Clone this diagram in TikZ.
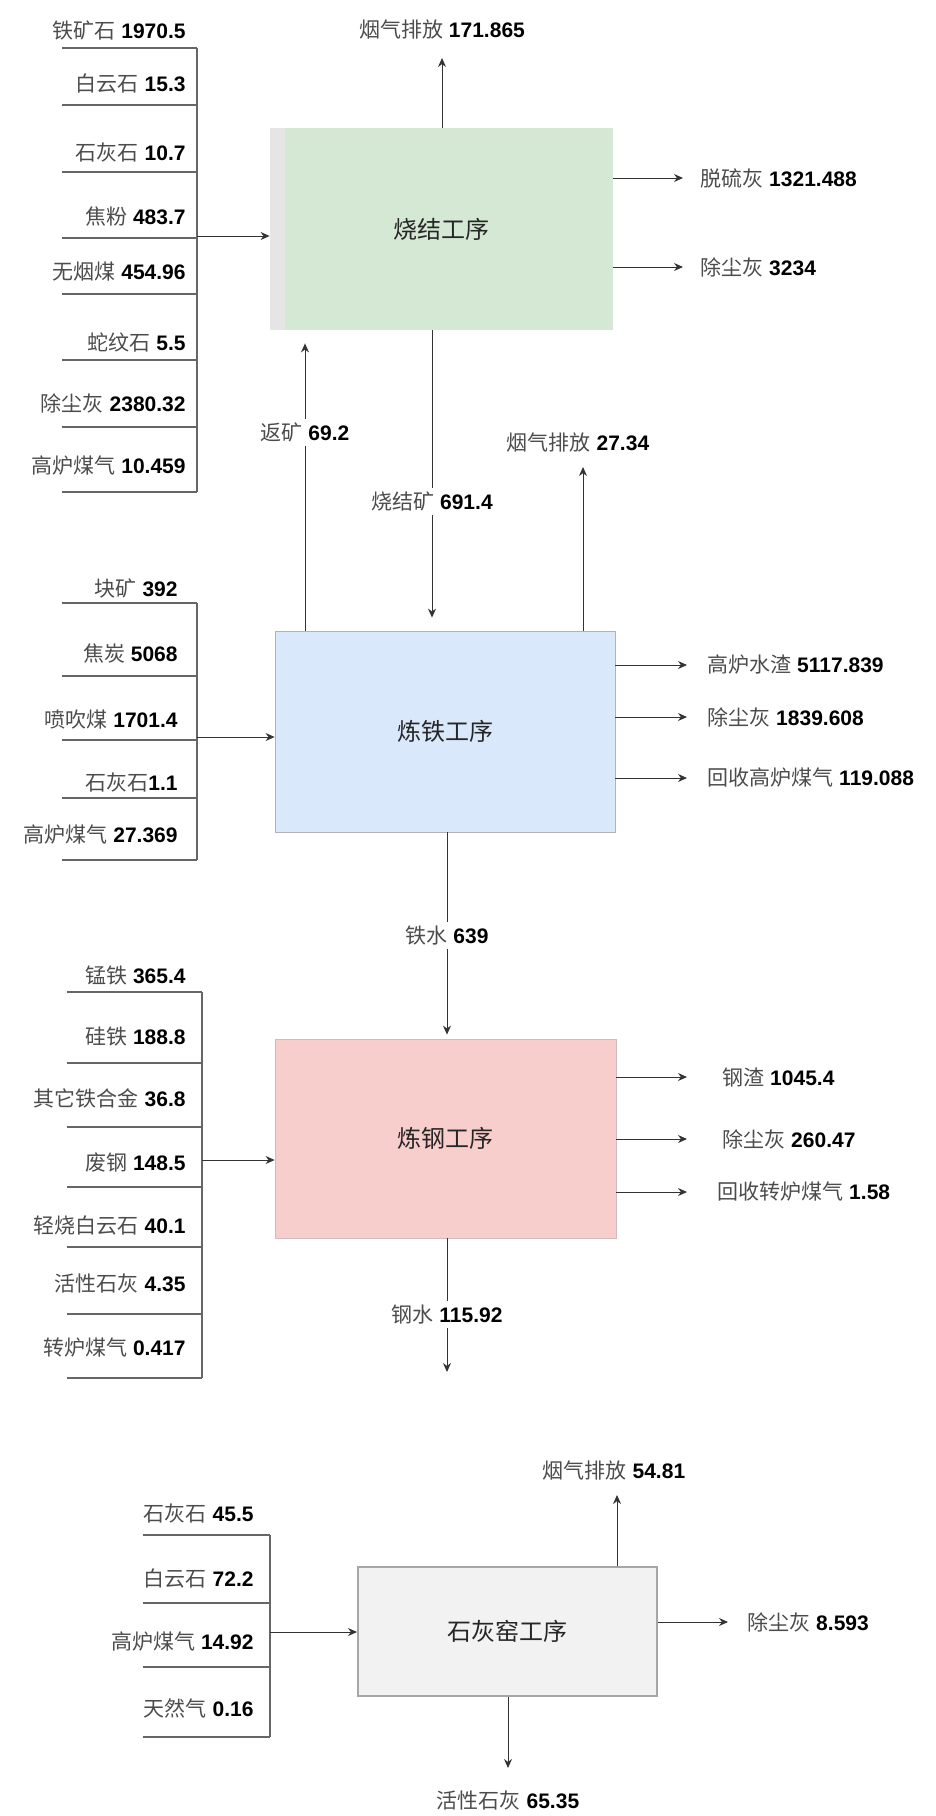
\documentclass[tikz,border=0pt]{standalone}
\usepackage{fontspec}
\setmainfont{Liberation Sans}
\newfontfamily\cjk{Noto Sans CJK SC}
\usepackage{xcolor}
\usepackage{tikz}
\usetikzlibrary{arrows.meta}
\usetikzlibrary{positioning}

\definecolor{sinterfill}{HTML}{D5E8D4}
\definecolor{ironfill}{HTML}{DAE8FC}
\definecolor{steelfill}{HTML}{F8CECC}
\definecolor{limefill}{HTML}{F2F2F2}

\newcommand{\amt}[2]{{\color{black!70}\cjk #1} \textbf{#2}}

\begin{document}
\begin{tikzpicture}[
  x=0.5pt, y=-0.5pt,
  every node/.style={font=\fontsize{10.5}{12}\selectfont, inner sep=1pt},
  proc/.style={font=\fontsize{12}{14}\selectfont\cjk, text=black!85},
  flow/.style={draw=black!80, line width=0.5pt, -{Stealth[length=4.5pt,width=4pt]}},
  rule/.style={draw=black!60, line width=0.7pt},
  onlbl/.style={fill=white, inner sep=2pt}
]
\useasboundingbox (0,0) rectangle (936,1816);

% process boxes
\node[proc, fill=sinterfill, minimum width=171.5pt, minimum height=101pt,
  path picture={\fill[black!10] (path picture bounding box.north west)
    rectangle ([xshift=7.5pt]path picture bounding box.south west);}]
  (sinter) at (441.5,229) {烧结工序};
\node[proc, fill=ironfill, draw=black!30, minimum width=170pt, minimum height=100.5pt]
  (iron) at (445,731.5) {炼铁工序};
\node[proc, fill=steelfill, draw=steelfill!70!black!60, minimum width=170.5pt, minimum height=99.5pt]
  (steel) at (445.5,1138.5) {炼钢工序};
\node[proc, fill=limefill, draw=black!35, line width=1pt, minimum width=149.5pt, minimum height=64.5pt]
  (lime) at (507.5,1631.5) {石灰窑工序};

% inputs of sinter
\foreach \t/\ty/\ly in {{\amt{铁矿石}{1970.5}}/30/48, {\amt{白云石}{15.3}}/84/105,
  {\amt{石灰石}{10.7}}/152/172, {\amt{焦粉}{483.7}}/216/238,
  {\amt{无烟煤}{454.96}}/272/294, {\amt{蛇纹石}{5.5}}/342/360,
  {\amt{除尘灰}{2380.32}}/403/427, {\amt{高炉煤气}{10.459}}/466/492}{
  \node[anchor=east] (sa\ly) at (188,\ty) {\t};
  \draw[rule] (62,\ly) -- (197,\ly);
}
\draw[rule] (197,48) -- (197,492);
\coordinate (sin) at (197,236);
\draw[flow] (sin) -- (sin -| sinter.west);

% inputs of iron
\foreach \t/\ty/\ly in {{\amt{块矿}{392}}/588/603, {\amt{焦炭}{5068}}/653/676,
  {\amt{喷吹煤}{1701.4}}/720/740, {{\color{black!70}\cjk 石灰石}\textbf{1.1}}/782/798,
  {\amt{高炉煤气}{27.369}}/835/860}{
  \node[anchor=east] (ia\ly) at (180,\ty) {\t};
  \draw[rule] (62,\ly) -- (197,\ly);
}
\draw[rule] (197,603) -- (197,860);
\coordinate (iin) at (197,737);
\draw[flow] (iin) -- (iin -| iron.west);

% inputs of steel
\foreach \t/\ty/\ly in {{\amt{锰铁}{365.4}}/975/992, {\amt{硅铁}{188.8}}/1037/1063,
  {\amt{其它铁合金}{36.8}}/1098/1127, {\amt{废钢}{148.5}}/1163/1187,
  {\amt{轻烧白云石}{40.1}}/1225/1247, {\amt{活性石灰}{4.35}}/1283/1314,
  {\amt{转炉煤气}{0.417}}/1348/1378}{
  \node[anchor=east] (ta\ly) at (188,\ty) {\t};
  \draw[rule] (67,\ly) -- (202,\ly);
}
\draw[rule] (202,992) -- (202,1378);
\coordinate (tin) at (202,1160);
\draw[flow] (tin) -- (tin -| steel.west);

% inputs of lime kiln
\foreach \t/\ty/\ly in {{\amt{石灰石}{45.5}}/1513/1535, {\amt{白云石}{72.2}}/1578/1603,
  {\amt{高炉煤气}{14.92}}/1642/1667, {\amt{天然气}{0.16}}/1708/1737}{
  \node[anchor=east] (la\ly) at (256,\ty) {\t};
  \draw[rule] (143,\ly) -- (270,\ly);
}
\draw[rule] (270,1535) -- (270,1737);
\coordinate (lin) at (270,1632);
\draw[flow] (lin) -- (lin -| lime.west);

% outputs to the right
\foreach \src/\tx/\lx/\ty/\t in {sinter/683/698/178/{\amt{脱硫灰}{1321.488}},
  sinter/683/698/267/{\amt{除尘灰}{3234}},
  iron/687/705/665/{\amt{高炉水渣}{5117.839}},
  iron/687/705/717/{\amt{除尘灰}{1839.608}},
  iron/687/705/778/{\amt{回收高炉煤气}{119.088}},
  steel/687/720/1077/{\amt{钢渣}{1045.4}},
  steel/687/720/1139/{\amt{除尘灰}{260.47}},
  steel/687/715/1192/{\amt{回收转炉煤气}{1.58}},
  lime/728/745/1622/{\amt{除尘灰}{8.593}}}{
  \coordinate (o\ty) at (\tx,\ty);
  \node[anchor=west] (ot\ty) at (\lx,\ty) {\t};
  \draw[flow] (o\ty -| \src.east) -- (o\ty);
}

% exhaust and products
\coordinate (sgas) at (442,58);
\node (sgas-t) at (442,30) {\amt{烟气排放}{171.865}};
\draw[flow] (sgas |- sinter.north) -- (sgas);

\coordinate (igas) at (583,467);
\node (igas-t) at (578,443) {\amt{烟气排放}{27.34}};
\draw[flow] (igas |- iron.north) -- (igas);

\coordinate (lgas) at (617,1495);
\node (lgas-t) at (614,1470) {\amt{烟气排放}{54.81}};
\draw[flow] (lgas |- lime.north) -- (lgas);

\coordinate (lout) at (508,1768);
\node (lout-t) at (508,1800) {\amt{活性石灰}{65.35}};
\draw[flow] (lout |- lime.south) -- (lout);

% links between the processes
\coordinate (back) at (305,0);
\draw[flow, shorten >=6.5pt] (back |- iron.north) -- (back |- sinter.south)
  node[onlbl, pos=0.66] (back-t) {\amt{返矿}{69.2}};
\coordinate (sore) at (432,0);
\draw[flow, shorten >=6.5pt] (sore |- sinter.south) -- (sore |- iron.north)
  node[onlbl, pos=0.57] (sore-t) {\amt{烧结矿}{691.4}};
\coordinate (hotm) at (447,0);
\draw[flow, shorten >=2pt] (hotm |- iron.south) -- (hotm |- steel.north)
  node[onlbl, pos=0.5] (hotm-t) {\amt{铁水}{639}};
\coordinate (melt) at (447,1372);
\draw[flow] (melt |- steel.south) -- (melt)
  node[onlbl, pos=0.57] (melt-t) {\amt{钢水}{115.92}};
\end{tikzpicture}
\end{document}
